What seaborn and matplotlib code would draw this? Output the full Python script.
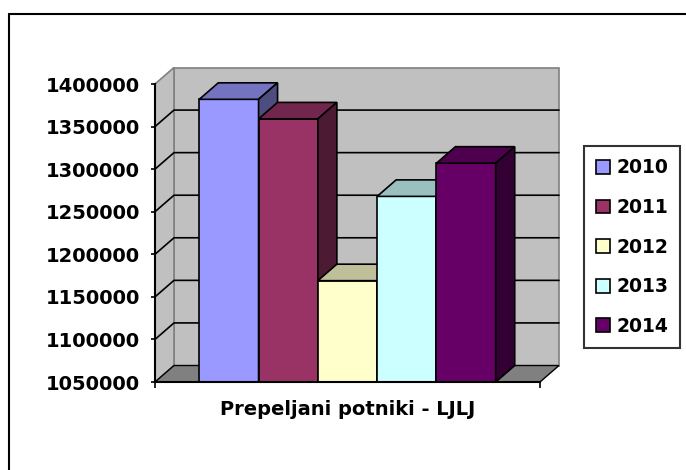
import matplotlib
matplotlib.use("Agg")
import matplotlib.pyplot as plt
import seaborn as sns
import pandas as pd
from matplotlib.patches import Polygon, Patch, Rectangle
from matplotlib.lines import Line2D

# ---- data ----
category = ["Prepeljani potniki - LJLJ"]
years = ["2010", "2011", "2012", "2013", "2014"]
passengers = [1382000, 1359000, 1169000, 1268000, 1307000]
colors = ["#9999FF", "#993366", "#FFFFCC", "#CCFFFF", "#660066"]
yticks = [1050000, 1100000, 1150000, 1200000, 1250000, 1300000, 1350000, 1400000]

sns.set_theme(style="white")
plt.rcParams["font.family"] = ["DejaVu Sans"]
plt.rcParams["text.color"] = "black"

W, H = 686, 470
fig = plt.figure(figsize=(W / 100, H / 100), dpi=100)
fig.patch.set_facecolor("white")

# outer chart frame (top and left visible)
fig.add_artist(Line2D([9 / W, 9 / W], [0, 1 - 14 / H], color="black", lw=1.5))
fig.add_artist(Line2D([9 / W, 1], [1 - 14 / H, 1 - 14 / H], color="black", lw=1.5))

# front plane axes
ax_l, ax_r, ax_t, ax_b = 155, 540, 84, 382
ax = fig.add_axes([ax_l / W, 1 - ax_b / H, (ax_r - ax_l) / W, (ax_b - ax_t) / H])
ax.set_facecolor("none")

df = pd.DataFrame({"cat": category * len(years), "year": years, "passengers": passengers})
sns.barplot(data=df, x="cat", y="passengers", hue="year", palette=colors,
            width=0.77, saturation=1, edgecolor="black", linewidth=1.2,
            legend=False, ax=ax)
bars = [p for p in ax.patches if isinstance(p, Rectangle) and p.get_width() > 0]
bars = sorted(bars, key=lambda p: p.get_x())

ymin, ymax = yticks[0], yticks[-1]
ax.set_ylim(ymin, ymax)
ax.set_xlim(-0.5, 0.5)
ax.set_xlabel("")
ax.set_ylabel("")

# depth offsets (pixels -> data)
DX, DY = 19, 16.5
sx = 1.0 / (ax_r - ax_l)
sy = (ymax - ymin) / (ax_b - ax_t)
ddx, ddy = DX * sx, DY * sy

wall_c, floor_c, edge_c = "#C0C0C0", "#808080", "#808080"
x0, x1 = -0.5, 0.5
ax.add_patch(Polygon([(x0 + ddx, ymin + ddy), (x1 + ddx, ymin + ddy), (x1 + ddx, ymax + ddy),
                      (x0 + ddx, ymax + ddy)], closed=True, fc=wall_c, ec=edge_c, lw=1.2,
                     zorder=0.2, clip_on=False))
ax.add_patch(Polygon([(x0, ymin), (x0, ymax), (x0 + ddx, ymax + ddy), (x0 + ddx, ymin + ddy)],
                     closed=True, fc=wall_c, ec=edge_c, lw=1.2, zorder=0.2, clip_on=False))
ax.add_patch(Polygon([(x0, ymin), (x1, ymin), (x1 + ddx, ymin + ddy), (x0 + ddx, ymin + ddy)],
                     closed=True, fc=floor_c, ec="black", lw=1.0, zorder=0.25, clip_on=False))
for v in yticks[1:-1]:
    ax.add_line(Line2D([x0, x0 + ddx, x1 + ddx], [v, v + ddy, v + ddy], color="black",
                       lw=1.2, zorder=0.3, clip_on=False))

def shade(c, f):
    r, g, b = matplotlib.colors.to_rgb(c)
    return (r * f, g * f, b * f)

for i, p in enumerate(bars):
    bx, bw = p.get_x(), p.get_width()
    top = p.get_y() + p.get_height()
    fc = p.get_facecolor()
    p.set_zorder(2 + 3 * i)
    ax.add_patch(Polygon([(bx, top), (bx + bw, top), (bx + bw + ddx, top + ddy), (bx + ddx, top + ddy)],
                         closed=True, fc=shade(fc, 0.75), ec="black", lw=1.2,
                         zorder=3 + 3 * i, clip_on=False))
    ax.add_patch(Polygon([(bx + bw, ymin), (bx + bw, top), (bx + bw + ddx, top + ddy),
                          (bx + bw + ddx, ymin + ddy)],
                         closed=True, fc=shade(fc, 0.5), ec="black", lw=1.2,
                         zorder=3 + 3 * i, clip_on=False))

# axes styling
for s in ["top", "right"]:
    ax.spines[s].set_visible(False)
for s in ["left", "bottom"]:
    ax.spines[s].set_color("black")
    ax.spines[s].set_linewidth(1.5)
    ax.spines[s].set_zorder(50)

ax.set_yticks(yticks)
ax.set_yticklabels([str(v) for v in yticks], fontsize=14, fontweight="bold", color="black")
ax.tick_params(axis="y", which="major", direction="out", length=3, width=1.2, pad=8,
               left=True, colors="black")
ax.set_xticks([0])
ax.set_xticklabels(category, fontsize=14, fontweight="bold", color="black")
ax.set_xticks([-0.5, 0.5], minor=True)
ax.tick_params(axis="x", which="major", length=0, pad=13)
ax.tick_params(axis="x", which="minor", direction="out", length=4, width=1.2, bottom=True,
               color="black")

handles = [Patch(facecolor=c, edgecolor="black", linewidth=1.2) for c in colors]
leg = fig.legend(handles, years, loc="upper left",
                 bbox_to_anchor=(584 / W, 1 - 146 / H), bbox_transform=fig.transFigure,
                 prop={"weight": "bold", "size": 13.5}, frameon=True, fancybox=False,
                 handlelength=0.75, handleheight=0.75, handletextpad=0.3,
                 labelspacing=1.1, borderpad=0.66, borderaxespad=0, labelcolor="black")
leg.get_frame().set_edgecolor("black")
leg.get_frame().set_linewidth(1.5)
leg.get_frame().set_facecolor("white")

fig.savefig("out.png", dpi=100, facecolor="white")
